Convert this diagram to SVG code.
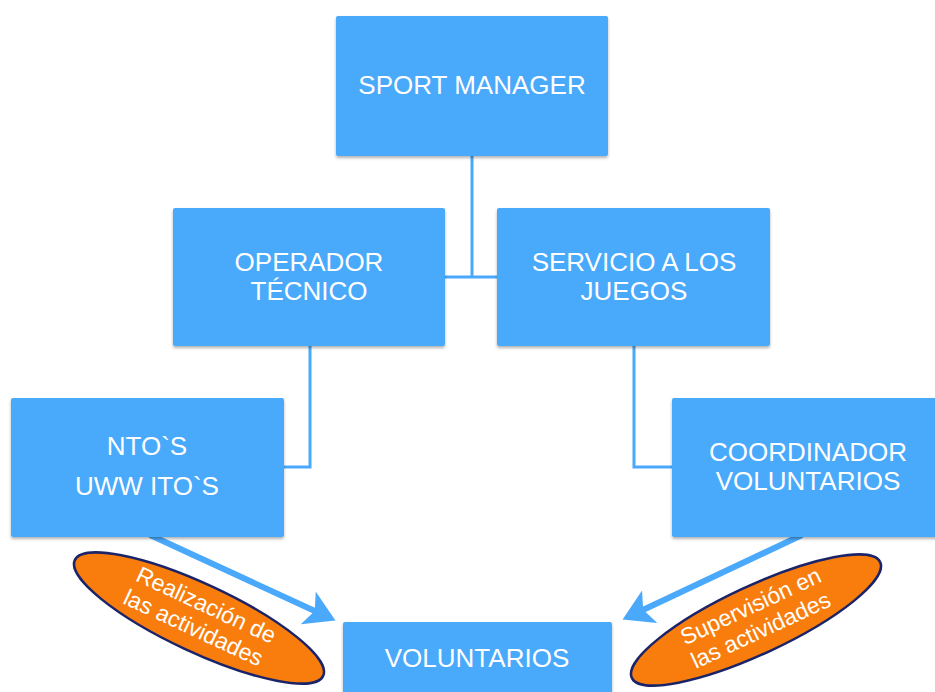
<svg xmlns="http://www.w3.org/2000/svg" width="935" height="692" viewBox="0 0 935 692">
<style>
.box{fill:#4aa9fb;filter:url(#sh)}
.t{font-family:"Liberation Sans",Arial,sans-serif;font-size:26px;fill:#fff;text-anchor:middle}
.c{fill:none;stroke:#4aa9fb;stroke-width:3}
.a{fill:none;stroke:#4aa9fb;stroke-width:6;marker-end:url(#ah)}
.el{fill:#f97d0c;stroke:#1b2468;stroke-width:2.5}
.et{font-family:"Liberation Sans",Arial,sans-serif;font-size:23px;fill:#fff;text-anchor:middle}
</style>
<defs>
<filter id="sh" x="-5%" y="-5%" width="110%" height="115%">
<feDropShadow dx="0" dy="2" stdDeviation="1.5" flood-color="#000" flood-opacity="0.3"/>
</filter>
<marker id="ah" markerWidth="6" markerHeight="6" refX="4" refY="3" orient="auto" markerUnits="strokeWidth">
<path d="M0,0 L5,3 L0,6 L1.2,3 Z" fill="#4aa9fb"/>
</marker>
</defs>
<rect width="935" height="692" fill="#fff"/>
<g id="connectors">
<path class="c" d="M472,156 V277 M445,277 H497"/>
<path class="c" d="M310,346 V467 H284"/>
<path class="c" d="M634,346 V467 H672"/>
<line class="a" x1="150" y1="535" x2="330" y2="618"/>
<line class="a" x1="802" y1="535" x2="628" y2="617"/>
</g>
<g id="sport-manager">
<rect class="box" x="336" y="16" width="272" height="140" rx="2"/>
<text class="t" x="472" y="94">SPORT MANAGER</text>
</g>
<g id="operador-tecnico">
<rect class="box" x="173" y="208" width="272" height="138" rx="2"/>
<text class="t" x="309" y="271">OPERADOR</text>
<text class="t" x="309" y="300">TÉCNICO</text>
</g>
<g id="servicio-juegos">
<rect class="box" x="497" y="208" width="273" height="138" rx="2"/>
<text class="t" x="634" y="271">SERVICIO A LOS</text>
<text class="t" x="634" y="300">JUEGOS</text>
</g>
<g id="ntos">
<rect class="box" x="11" y="398" width="273" height="139" rx="2"/>
<text class="t" x="147" y="455">NTO`S</text>
<text class="t" x="147" y="495">UWW ITO`S</text>
</g>
<g id="coordinador">
<rect class="box" x="672" y="398" width="275" height="139" rx="2"/>
<text class="t" x="808" y="461">COORDINADOR</text>
<text class="t" x="808" y="490">VOLUNTARIOS</text>
</g>
<g id="voluntarios">
<rect class="box" x="343" y="622" width="269" height="80" rx="2"/>
<text class="t" x="477" y="667">VOLUNTARIOS</text>
</g>
<g id="realizacion" transform="rotate(25 199 618)">
<ellipse class="el" cx="199" cy="618" rx="137" ry="34"/>
<text class="et" x="200" y="611">Realización de</text>
<text class="et" x="198" y="637">las actividades</text>
</g>
<g id="supervision" transform="rotate(-25 756 620)">
<ellipse class="el" cx="756" cy="620" rx="137" ry="34"/>
<text class="et" x="757" y="613">Supervisión en</text>
<text class="et" x="756" y="639">las actividades</text>
</g>
</svg>
